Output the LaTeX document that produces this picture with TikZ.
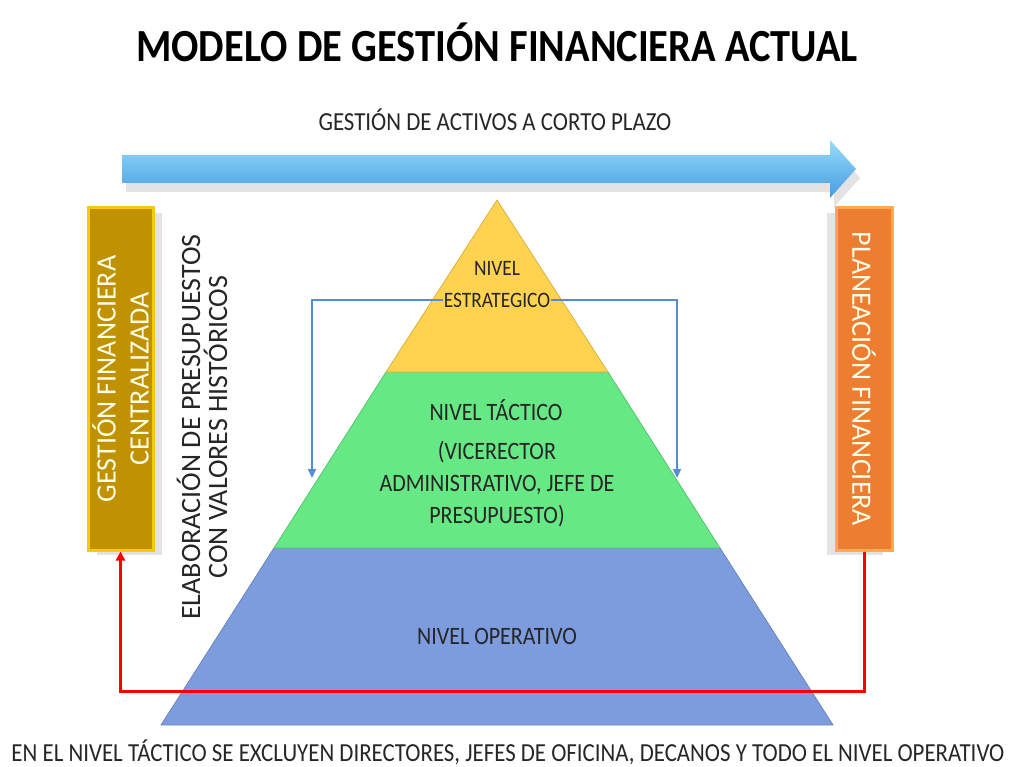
\documentclass[tikz,border=0pt]{standalone}
\usepackage{fontspec}
\setmainfont{Carlito}
\newfontfamily\narrowfont[FakeStretch=0.88]{Carlito}
\usetikzlibrary{arrows.meta, positioning, shadows}

\definecolor{goldbox}{RGB}{192,145,0}
\definecolor{goldedge}{RGB}{250,200,20}
\definecolor{orangebox}{RGB}{237,125,49}
\definecolor{orangeedge}{RGB}{255,170,80}
\definecolor{arrowtop}{RGB}{150,220,250}
\definecolor{arrowbot}{RGB}{70,155,225}
\definecolor{estcolor}{RGB}{255,210,80}
\definecolor{taccolor}{RGB}{102,232,132}
\definecolor{opcolor}{RGB}{125,156,222}
\definecolor{loopblue}{RGB}{85,140,215}

\begin{document}
\begin{tikzpicture}[
  x=1pt, y=-1pt,
  lvltext/.style={font=\narrowfont\fontsize{25}{32}\selectfont, align=center, text=black!85, inner sep=1pt},
  sidebox/.style={rectangle, line width=3pt, minimum width=342pt, inner sep=2pt, align=center,
                  font=\fontsize{28}{33}\selectfont, text=white!90!yellow},
  layer/.style={draw=#1!85!black, line width=0.8pt, fill=#1},
  feedback/.style={-{Triangle[width=8pt,length=9pt]}, line width=2.2pt, draw=loopblue},
  retro/.style={-{Triangle[width=9pt,length=9pt]}, line width=3pt, draw=red}
]
\useasboundingbox (0,0) rectangle (1015,767);

% titulo y flecha superior
\node[font=\narrowfont\bfseries\fontsize{46}{50}\selectfont] (titulo) at (497,42) {MODELO DE GESTIÓN FINANCIERA ACTUAL};
\node[font=\narrowfont\fontsize{26}{30}\selectfont, text=black!85] (activos) at (495,120) {GESTIÓN DE ACTIVOS A CORTO PLAZO};
\path[top color=arrowtop, bottom color=arrowbot, drop shadow={opacity=0.22, shadow xshift=4pt, shadow yshift=-9pt}]
  (122,155) -- (830,155) -- (830,140) -- (856,169) -- (830,198) -- (830,183) -- (122,183) -- cycle;

% piramide
\path[layer=opcolor] (274,548) -- (720,548) -- (833,725) -- (161,725) -- cycle;
\path[layer=taccolor] (386,372) -- (608,372) -- (720,548) -- (274,548) -- cycle;
\path[layer=estcolor] (497,200) -- (608,372) -- (386,372) -- cycle;

\node[lvltext, font=\narrowfont\fontsize{22}{26}\selectfont] (nivelE) at (497,268) {NIVEL};
\node[lvltext, font=\narrowfont\fontsize{22}{26}\selectfont] (estrategico) at (497,300) {ESTRATEGICO};
\node[lvltext] (tactico) at (496,410) {NIVEL TÁCTICO};
\node[lvltext] (vicerrector) at (497,484) {(VICERECTOR\\ADMINISTRATIVO, JEFE DE\\PRESUPUESTO)};
\node[lvltext] (operativo) at (497,636) {NIVEL OPERATIVO};

% cajas laterales
\node[sidebox, rotate=90, fill=goldbox, draw=goldedge, minimum height=65pt,
      drop shadow={opacity=0.22, shadow xshift=9pt, shadow yshift=-5pt}] (centralizada) at (120.5,379)
  {GESTIÓN FINANCIERA\\CENTRALIZADA};
\node[sidebox, rotate=-90, fill=orangebox, draw=orangeedge, minimum height=56pt,
      drop shadow={opacity=0.22, shadow xshift=-9pt, shadow yshift=-5pt}] (planeacion) at (864,379)
  {PLANEACIÓN FINANCIERA};
\node[rotate=90, font=\fontsize{28}{27}\selectfont, align=center, text=black!85] (presupuestos) at (202,427)
  {ELABORACIÓN DE PRESUPUESTOS\\CON VALORES HISTÓRICOS};

% conectores
\coordinate (tacL) at (312,478);
\coordinate (tacR) at (677,478);
\draw[feedback] (estrategico.west) -| (tacL);
\draw[feedback] (estrategico.east) -| (tacR);
% planeacion.east y centralizada.west quedan abajo por la rotacion
\draw[retro] (planeacion.east) -- ++(0,140) -| (centralizada.west);

\node[font=\narrowfont\fontsize{26}{30}\selectfont, text=black!85] (nota) at (508,752)
  {EN EL NIVEL TÁCTICO SE EXCLUYEN DIRECTORES, JEFES DE OFICINA, DECANOS Y TODO EL NIVEL OPERATIVO};
\end{tikzpicture}
\end{document}
